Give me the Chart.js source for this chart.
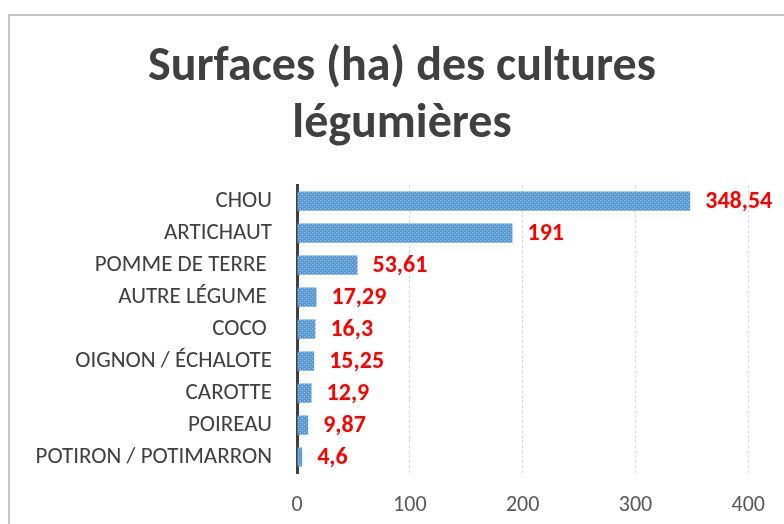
<!DOCTYPE html>
<html>
<head>
<meta charset="utf-8">
<script src="https://cdn.jsdelivr.net/npm/chart.js@4.4.1/dist/chart.umd.min.js"></script>
<style>
  html, body { margin: 0; padding: 0; background: #fff; }
  #wrap { width: 784px; height: 524px; }
</style>
</head>
<body>
<div id="wrap"><canvas id="cultureChart"></canvas></div>
<script>
const categories = ['CHOU', 'ARTICHAUT', 'POMME DE TERRE ', 'AUTRE LÉGUME ', 'COCO ', 'OIGNON / ÉCHALOTE', 'CAROTTE', 'POIREAU', 'POTIRON / POTIMARRON'];
const surfaces = [348.54, 191, 53.61, 17.29, 16.3, 15.25, 12.9, 9.87, 4.6];
const xTicks = [0, 100, 200, 300, 400];

const fontFamily = "Carlito, Lato, 'Open Sans', sans-serif";

// petit motif pointillé pour les barres
function makePattern() {
  const c = document.createElement('canvas');
  c.width = 4;
  c.height = 4;
  const g = c.getContext('2d');
  g.fillStyle = '#5b9bd5';
  g.fillRect(0, 0, 4, 4);
  g.fillStyle = '#a4c7e8';
  g.fillRect(0, 0, 1, 1);
  g.fillRect(2, 2, 1, 1);
  return g.createPattern(c, 'repeat');
}

const frameBorder = {
  id: 'frameBorder',
  beforeDraw(chart) {
    const ctx = chart.ctx;
    ctx.save();
    ctx.strokeStyle = '#c4c4c4';
    ctx.lineWidth = 2;
    ctx.beginPath();
    ctx.moveTo(9, 600);
    ctx.lineTo(9, 15);
    ctx.lineTo(900, 15);
    ctx.stroke();
    ctx.restore();
  }
};

const valueLabels = {
  id: 'valueLabels',
  afterDatasetsDraw(chart) {
    const ctx = chart.ctx;
    const meta = chart.getDatasetMeta(0);
    ctx.save();
    ctx.fillStyle = '#ff0000';
    ctx.font = 'bold 24px ' + fontFamily;
    ctx.textAlign = 'left';
    ctx.textBaseline = 'middle';
    meta.data.forEach((bar, i) => {
      const txt = String(surfaces[i]).replace('.', ',');
      ctx.fillText(txt, bar.x + 15, bar.y + 1);
    });
    ctx.restore();
  }
};

new Chart(document.getElementById('cultureChart').getContext('2d'), {
  type: 'bar',
  data: {
    labels: categories,
    datasets: [{
      data: surfaces,
      backgroundColor: makePattern(),
      borderWidth: 0,
      categoryPercentage: 1,
      barPercentage: 0.6
    }]
  },
  options: {
    indexAxis: 'y',
    responsive: true,
    maintainAspectRatio: false,
    animation: false,
    layout: {
      padding: { left: 20, right: 0, top: 0, bottom: 0 }
    },
    scales: {
      x: {
        min: 0,
        max: 400,
        afterBuildTicks: scale => {
          scale.ticks = xTicks.map(v => ({ value: v }));
        },
        afterFit: scale => {
          scale.height = 51;
        },
        ticks: {
          color: '#595959',
          padding: 19,
          font: { family: fontFamily, size: 22 }
        },
        grid: {
          color: '#d9d9d9',
          drawTicks: false
        },
        border: { display: false, dash: [3, 2] }
      },
      y: {
        afterFit: scale => {
          scale.width = 277;
        },
        ticks: {
          color: '#404040',
          padding: 17,
          font: { family: fontFamily, size: 23 }
        },
        grid: { display: false },
        border: { color: '#404040', width: 3 }
      },
      // marge droite vide pour laisser la place au libellé 348,54
      yRight: {
        type: 'linear',
        position: 'right',
        afterFit: scale => {
          scale.width = 35;
        },
        ticks: { display: false },
        grid: { display: false },
        border: { display: false }
      }
    },
    plugins: {
      legend: { display: false },
      tooltip: { enabled: false },
      title: {
        display: true,
        text: ['Surfaces (ha) des cultures', 'légumières'],
        color: '#404040',
        font: { family: fontFamily, size: 48, weight: 'bold', lineHeight: 1.2 },
        padding: { top: 39, bottom: 31 }
      }
    }
  },
  plugins: [frameBorder, valueLabels]
});
</script>
</body>
</html>
